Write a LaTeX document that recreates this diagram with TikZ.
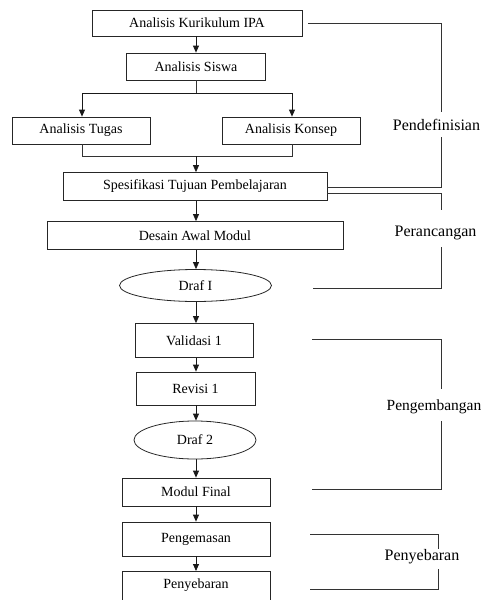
\documentclass[tikz,border=0pt]{standalone}
\usepackage{fontspec}
\setmainfont{Liberation Serif}
\usetikzlibrary{arrows.meta,shapes.geometric}
\begin{document}
\begin{tikzpicture}[x=1pt,y=-1pt,
  line width=0.8pt,
  every node/.style={font=\fontsize{14}{16}\selectfont, text=black},
  box/.style={draw=black!85, rectangle, inner sep=0pt},
  oval/.style={draw=black!85, ellipse, inner sep=0pt},
  lab/.style={font=\fontsize{16}{18}\selectfont, inner sep=0pt},
  arr/.style={draw=black!90, -{Triangle[length=7pt,width=6pt]}},
  ln/.style={draw=black!80}
]
\useasboundingbox (0,0) rectangle (482,600);

% main column
\node[box, minimum width=210pt, minimum height=26pt] (kur) at (197,23) {Analisis Kurikulum IPA};
\node[box, minimum width=139pt, minimum height=27pt] (sis) at (196,66.5) {Analisis Siswa};
\node[box, minimum width=138pt, minimum height=27pt] (tug) at (81,130.5) {Analisis Tugas};
\node[box, minimum width=138pt, minimum height=27pt] (kon) at (291,130.5) {Analisis Konsep};
\node[box, minimum width=264pt, minimum height=28pt] (spe) at (195,186.5) {Spesifikasi Tujuan Pembelajaran};
\node[box, minimum width=296pt, minimum height=28pt] (des) at (195,235.5) {Desain Awal Modul};
\node[oval, minimum width=152pt, minimum height=32pt] (dr1) at (195.5,285.5) {Draf I};
\node[box, minimum width=118pt, minimum height=34pt] (val) at (194,340.5) {Validasi 1};
\node[box, minimum width=119pt, minimum height=33pt] (rev) at (195.5,388.5) {Revisi 1};
\node[oval, minimum width=122pt, minimum height=38pt] (dr2) at (195,440) {Draf 2};
\node[box, minimum width=148pt, minimum height=28pt] (mod) at (196,492) {Modul Final};
\node[box, minimum width=148pt, minimum height=34pt] (pge) at (196,539) {Pengemasan};
\node[box, minimum width=148pt, minimum height=33pt, anchor=north] (pye) at (196,571) {};
\node (pyet) at (196,585.5) {Penyebaran};

% connectors
\draw[arr] (kur.south -| sis.north) -- (sis.north);
\coordinate (sp) at (196,93);
\draw[ln] (sis.south -| sp) -- (sp);
\draw[arr] (sp) -| (tug.north -| 82,0);
\draw[arr] (sp) -| (kon.north -| 292,0);
\coordinate (jn) at (196,156);
\draw[ln] (tug.south -| 82,0) |- (jn);
\draw[ln] (kon.south -| 292,0) |- (jn);
\draw[arr] (jn) -- (spe.north -| jn);
\draw[arr] (spe.south -| 196,0) -- (des.north -| 196,0);
\draw[arr] (des.south -| 196,0) -- (dr1.north -| 196,0);
\draw[arr] (dr1.south -| 196,0) -- (val.north -| 196,0);
\draw[arr] (val.south -| 196,0) -- (rev.north -| 196,0);
\draw[arr] (rev.south -| 196,0) -- (dr2.north -| 196,0);
\draw[arr] (dr2.south -| 196,0) -- (mod.north -| 196,0);
\draw[arr] (mod.south -| 196,0) -- (pge.north -| 196,0);
\draw[arr] (pge.south -| 196,0) -- (pye.north -| 196,0);

% right brackets
\node[lab] (l1) at (436.5,125) {Pendefinisian};
\node[lab] (l2) at (435.5,233) {Perancangan};
\node[lab, font=\fontsize{15.5}{18}\selectfont] (l3) at (434,407) {Pengembangan};
\node[lab] (l4) at (422,557) {Penyebaran};

\coordinate (a1) at (308,23);
\draw[ln] (a1) -- (441,23) -- (441,112);
\draw[ln] (441,137) -- (441,187.5) -- (spe.east |- 0,187.5);
\draw[ln] (spe.east |- 0,193) -- (441,193) -- (441,210);
\coordinate (a2) at (313,288);
\draw[ln] (441,247) -- (441,288) -- (a2);
\coordinate (a3) at (312,339);
\coordinate (a4) at (312,489);
\draw[ln] (a3) -- (441,339) -- (441,389);
\draw[ln] (441,421) -- (441,489) -- (a4);
\coordinate (a5) at (310,534);
\coordinate (a6) at (310,589);
\draw[ln] (a5) -- (438.5,534) -- (438.5,549);
\draw[ln] (438.5,569) -- (438.5,589) -- (a6);
\end{tikzpicture}
\end{document}
